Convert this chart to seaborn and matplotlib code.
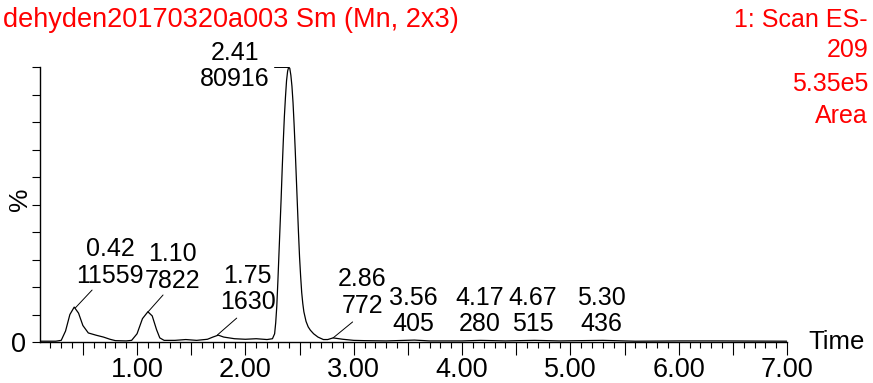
import numpy as np
import pandas as pd
import seaborn as sns
import matplotlib.pyplot as plt
from matplotlib.ticker import MultipleLocator, FuncFormatter

# trace (time in min, intensity in %)
times = [0.10, 0.25, 0.30, 0.34, 0.38, 0.42, 0.46, 0.50, 0.55, 0.62, 0.69, 0.75, 0.80,
         0.90, 0.95, 1.00, 1.05, 1.10, 1.14, 1.18, 1.21, 1.25, 1.35, 1.45, 1.55, 1.65,
         1.70, 1.75, 1.80, 1.90, 2.00, 2.10, 2.20, 2.25, 2.27, 2.28, 2.29, 2.30, 2.31,
         2.32, 2.33, 2.34, 2.35, 2.36, 2.37, 2.38, 2.39, 2.40, 2.41, 2.42, 2.43, 2.44,
         2.45, 2.46, 2.47, 2.48, 2.49, 2.50, 2.51, 2.52, 2.53, 2.54, 2.56, 2.58, 2.60,
         2.63, 2.67, 2.72, 2.76, 2.81, 2.90, 3.00, 3.10, 3.30, 3.56, 3.70, 4.00, 4.17,
         4.40, 4.67, 4.90, 5.30, 5.60, 6.00, 6.40, 7.00]
intensity = [0.3, 0.3, 0.6, 4.0, 10.0, 12.7, 10.5, 6.0, 3.3, 2.5, 1.8, 1.0, 0.5,
             0.4, 0.6, 3.0, 8.5, 11.0, 9.5, 4.5, 1.5, 0.6, 0.6, 0.9, 0.6, 1.0,
             1.8, 2.5, 1.8, 1.2, 1.0, 1.2, 0.9, 1.2, 3.0, 7.0, 13.0, 22.0, 32.0,
             42.0, 52.0, 63.0, 73.0, 82.0, 89.0, 95.0, 98.5, 100.0, 99.5, 97.0, 93.0, 87.0,
             79.0, 70.0, 60.0, 50.0, 40.0, 31.0, 24.0, 18.0, 14.0, 11.0, 7.5, 5.5, 4.3,
             3.0, 1.8, 0.9, 0.9, 1.5, 1.0, 0.6, 0.5, 0.4, 0.7, 0.4, 0.4, 0.6,
             0.4, 0.6, 0.4, 0.6, 0.3, 0.4, 0.4, 0.3]

peak_times = ['0.42', '1.10', '1.75', '2.41', '2.86', '3.56', '4.17', '4.67', '5.30']
peak_areas = ['11559', '7822', '1630', '80916', '772', '405', '280', '515', '436']

# where each label sits, and its leader line (None = no leader)
label_pos = [(0.75, 28.9), (1.33, 27.1), (2.02, 19.3), (1.905, 100.4), (3.08, 18.0),
             (3.55, 11.3), (4.16, 11.3), (4.65, 11.3), (5.29, 11.3)]
leaders = [((0.43, 12.4), (0.585, 18.9)), ((1.10, 10.9), (1.24, 17.1)),
           ((1.74, 2.5), (1.92, 8.7)), ((2.265, 100), (2.394, 100)),
           ((2.81, 1.5), (2.99, 7.3)), None, None, None, None]

df = pd.DataFrame({'time': times, 'pct': intensity})

sns.set_style('ticks')
plt.rcParams['font.family'] = ['Liberation Sans', 'DejaVu Sans']
plt.rcParams['text.color'] = 'black'
plt.rcParams['xtick.color'] = 'black'
plt.rcParams['ytick.color'] = 'black'

fig = plt.figure(figsize=(8.73, 3.83), dpi=100)
ax = fig.add_axes([0.0458, 0.107, 0.8557, 0.718])

sns.lineplot(data=df, x='time', y='pct', color='black', linewidth=0.9, ax=ax)

for i in range(len(peak_times)):
    x, y = label_pos[i]
    ax.text(x, y, peak_times[i] + '\n' + peak_areas[i], ha='center', va='center',
            fontsize=18, color='black', linespacing=1.15, clip_on=False)
    if leaders[i] is not None:
        (x0, y0), (x1, y1) = leaders[i]
        ax.plot([x0, x1], [y0, y1], color='black', linewidth=0.7, clip_on=False)

ax.set_xlim(0.104, 7.0)
ax.set_ylim(0, 100)
sns.despine(ax=ax)
for s in ['left', 'bottom']:
    ax.spines[s].set_linewidth(1.0)
    ax.spines[s].set_color('black')

ax.xaxis.set_major_locator(MultipleLocator(0.5))
ax.xaxis.set_minor_locator(MultipleLocator(0.1))
ax.xaxis.set_major_formatter(FuncFormatter(lambda v, p: f'{v:.2f}' if abs(v - round(v)) < 1e-6 else ''))
ax.tick_params(axis='x', which='major', length=9, width=0.8, labelsize=19.5, pad=2,
               color='black', labelcolor='black')
ax.tick_params(axis='x', which='minor', length=4, width=0.8, color='black')

ax.yaxis.set_major_locator(MultipleLocator(10))
ax.yaxis.set_major_formatter(FuncFormatter(lambda v, p: '0' if abs(v) < 1e-6 else ''))
ax.tick_params(axis='y', which='major', length=6, width=0.8, labelsize=19.5, pad=4,
               color='black', labelcolor='black')

ax.set_xlabel('')
ax.set_ylabel('')
fig.text(0.9256, 0.107, 'Time', fontsize=18.5, ha='left', va='center', color='black')
fig.text(0.023, 0.48, '%', fontsize=19, ha='center', va='center', rotation=90, color='black')

red = '#ff0000'
fig.text(0.0034, 0.948, 'dehyden20170320a003 Sm (Mn, 2x3)', fontsize=19.5, color=red,
         ha='left', va='center')
for txt, yy in zip(['1: Scan ES-', '209', '5.35e5', 'Area'], [0.948, 0.869, 0.781, 0.697]):
    fig.text(0.9943, yy, txt, fontsize=18, color=red, ha='right', va='center')

fig.savefig('out.png', dpi=100)
